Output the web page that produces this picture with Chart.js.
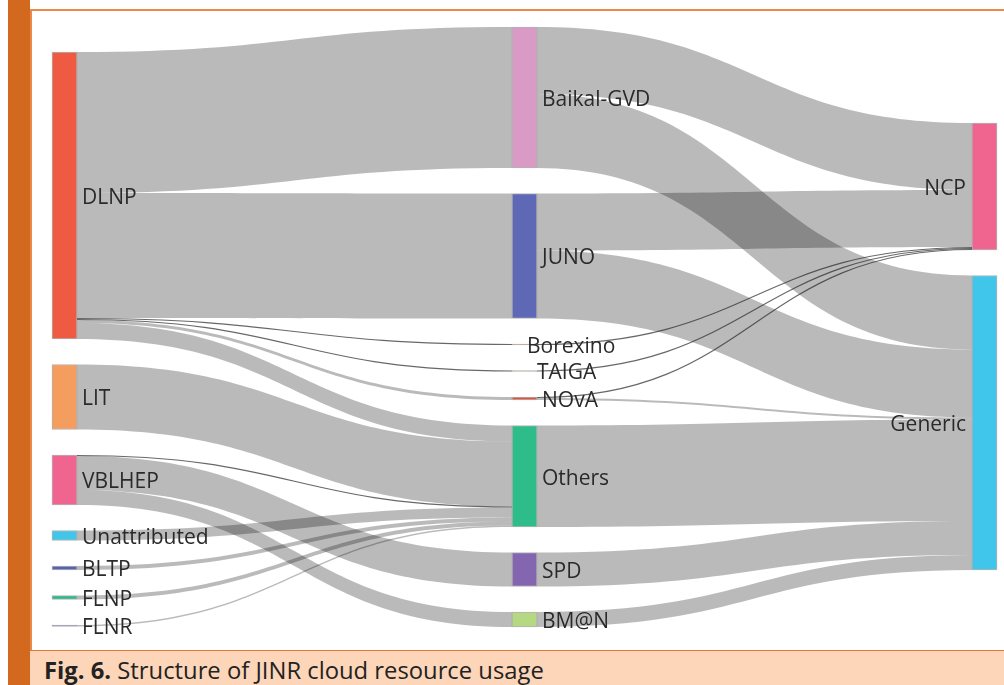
<!DOCTYPE html>
<html lang="en">
<head>
<meta charset="UTF-8">
<title>Structure of JINR cloud resource usage</title>
<script src="https://cdn.jsdelivr.net/npm/chart.js"></script>
<style>
    body {
        margin: 0;
        background: #fff;
        font-family: 'Open Sans', sans-serif;
    }
    .page {
        position: relative;
        width: 1004px;
        height: 685px;
        overflow: hidden;
    }
    .side-bar {
        position: absolute;
        left: 8px;
        top: 0;
        width: 22px;
        height: 685px;
        background: #d2691f;
    }
    .panel {
        position: absolute;
        left: 30px;
        top: 9px;
        width: 972px;
        height: 639px;
        border-top: 2px solid #ea8a4a;
        border-left: 2px solid #ea8a4a;
        background: #fff;
    }
    .chart-box {
        position: relative;
        width: 972px;
        height: 639px;
    }
    .caption {
        position: absolute;
        left: 30px;
        top: 650px;
        width: 974px;
        height: 35px;
        border-top: 1px solid #e07a3a;
        background: #fdd6b9;
        color: #222;
        font-size: 23.8px;
        line-height: 24px;
    }
    .caption span.text {
        position: absolute;
        left: 14px;
        top: 7px;
        white-space: nowrap;
    }
</style>
</head>
<body>
<div class="page">
    <div class="side-bar"></div>
    <div class="panel">
        <div class="chart-box"><canvas id="sankey"></canvas></div>
    </div>
    <div class="caption"><span class="text"><b>Fig. 6.</b> Structure of JINR cloud resource usage</span></div>
</div>

<script>
    // nodes (column 0 = departments, 1 = projects, 2 = resource pools)
    const nodeNames = ['DLNP', 'LIT', 'VBLHEP', 'Unattributed', 'BLTP', 'FLNP', 'FLNR',
        'Baikal-GVD', 'JUNO', 'Borexino', 'TAIGA', 'NOvA', 'Others', 'SPD', 'BM@N',
        'NCP', 'Generic'];
    const nodeColumn = [0, 0, 0, 0, 0, 0, 0, 1, 1, 1, 1, 1, 1, 1, 1, 2, 2];

    // links
    const linkSource = ['DLNP', 'DLNP', 'DLNP', 'DLNP', 'DLNP', 'DLNP', 'LIT', 'VBLHEP', 'VBLHEP', 'VBLHEP',
        'Unattributed', 'BLTP', 'FLNP', 'FLNR', 'Baikal-GVD', 'Baikal-GVD', 'JUNO', 'JUNO',
        'Borexino', 'TAIGA', 'NOvA', 'NOvA', 'Others', 'SPD', 'BM@N'];
    const linkTarget = ['Baikal-GVD', 'JUNO', 'Borexino', 'TAIGA', 'NOvA', 'Others', 'Others', 'Others', 'SPD', 'BM@N',
        'Others', 'Others', 'Others', 'Others', 'NCP', 'Generic', 'NCP', 'Generic',
        'NCP', 'NCP', 'NCP', 'Generic', 'Generic', 'Generic', 'Generic'];
    const linkValue = [141, 125, 1, 1, 3, 16, 65, 1, 34, 15,
        10, 4, 4, 1.5, 67, 74, 57, 68,
        1, 1, 1, 2, 101.5, 34, 15];

    const nodeColors = ['#ee5a42', '#f59d5e', '#ef6590', '#42c5e8', '#5462b2', '#2bb88a', '#8466b2',
        '#d99ac6', '#5e68b4', '#a08a70', '#a08a70', '#e0503c', '#2ebc8a', '#8466b0', '#b6d882',
        '#ef6590', '#40c6ea'];

    // layout settings
    const NODE_PAD = 25.5;
    const COLUMN_TOP = [25, 0, 96];
    const NODE_WIDTH = 25;
    const labelNudge = { 'Borexino': -15, 'TAIGA': -5 }; // tiny nodes: label sits over the node end

    function layoutSankey() {
        const nodes = nodeNames.map((name, i) => ({ name, col: nodeColumn[i], inSum: 0, outSum: 0, ins: [], outs: [] }));
        const byName = {};
        nodes.forEach(n => byName[n.name] = n);
        const links = linkValue.map((v, i) => {
            const l = { source: byName[linkSource[i]], target: byName[linkTarget[i]], value: v };
            l.source.outSum += v;
            l.target.inSum += v;
            l.source.outs.push(l);
            l.target.ins.push(l);
            return l;
        });
        const colPos = COLUMN_TOP.slice();
        nodes.forEach(n => {
            n.value = Math.max(n.inSum, n.outSum);
            n.y0 = colPos[n.col];
            n.y1 = n.y0 + n.value;
            colPos[n.col] = n.y1 + NODE_PAD;
        });
        nodes.forEach(n => {
            let off = n.y0;
            n.outs.sort((a, b) => a.target.y0 - b.target.y0).forEach(l => { l.sy0 = off; off += l.value; });
            off = n.y0;
            n.ins.sort((a, b) => a.source.y0 - b.source.y0).forEach(l => { l.ty0 = off; off += l.value; });
        });
        return { nodes, links };
    }

    const graph = layoutSankey();

    const linkPlugin = {
        id: 'sankeyLinks',
        beforeDatasetsDraw(chart) {
            const ctx = chart.ctx;
            const x = chart.scales.x, y = chart.scales.y;
            ctx.save();
            graph.links.forEach(l => {
                const sx = x.getPixelForValue(l.source.col) + NODE_WIDTH / 2;
                const tx = x.getPixelForValue(l.target.col) - NODE_WIDTH / 2;
                const xm = (sx + tx) / 2;
                const s0 = y.getPixelForValue(l.sy0), s1 = y.getPixelForValue(l.sy0 + l.value);
                const t0 = y.getPixelForValue(l.ty0), t1 = y.getPixelForValue(l.ty0 + l.value);
                if (l.value <= 1) {
                    // very thin flows show up as a dark hairline
                    const sm = (s0 + s1) / 2, tm = (t0 + t1) / 2;
                    ctx.beginPath();
                    ctx.moveTo(sx, sm);
                    ctx.bezierCurveTo(xm, sm, xm, tm, tx, tm);
                    ctx.strokeStyle = 'rgba(40,40,40,0.7)';
                    ctx.lineWidth = 1.2;
                    ctx.stroke();
                    return;
                }
                ctx.beginPath();
                ctx.moveTo(sx, s0);
                ctx.bezierCurveTo(xm, s0, xm, t0, tx, t0);
                ctx.lineTo(tx, t1);
                ctx.bezierCurveTo(xm, t1, xm, s1, sx, s1);
                ctx.closePath();
                ctx.fillStyle = 'rgba(0,0,0,0.27)';
                ctx.fill();
            });
            ctx.restore();
        },
        afterDatasetsDraw(chart) {
            const ctx = chart.ctx;
            const x = chart.scales.x, y = chart.scales.y;
            ctx.save();
            ctx.font = '21px "Open Sans"';
            ctx.fillStyle = '#2a2a2a';
            ctx.textBaseline = 'middle';
            graph.nodes.forEach(n => {
                const cy = y.getPixelForValue((n.y0 + n.y1) / 2) + 2.5;
                const cx = x.getPixelForValue(n.col);
                if (n.col === 2) {
                    ctx.textAlign = 'right';
                    ctx.fillText(n.name, cx - NODE_WIDTH / 2 - 6, cy);
                } else {
                    ctx.textAlign = 'left';
                    ctx.fillText(n.name, cx + NODE_WIDTH / 2 + 5 + (labelNudge[n.name] || 0), cy);
                }
            });
            ctx.restore();
        }
    };

    new Chart(document.getElementById('sankey'), {
        type: 'bar',
        data: {
            datasets: [{
                data: graph.nodes.map(n => ({ x: n.col, y: [n.y0, Math.max(n.y1, n.y0 + 1)] })),
                backgroundColor: nodeColors,
                borderColor: 'rgba(60,60,60,0.4)',
                borderWidth: 1,
                borderSkipped: false,
                barThickness: NODE_WIDTH,
                clip: false
            }]
        },
        options: {
            responsive: true,
            maintainAspectRatio: false,
            animation: false,
            events: [],
            layout: { padding: { left: 32.5, right: 19.5, top: 16, bottom: 22 } },
            plugins: {
                legend: { display: false },
                tooltip: { enabled: false }
            },
            scales: {
                x: { type: 'linear', min: 0, max: 2, offset: false, display: false },
                y: { type: 'linear', min: 0, max: 601, reverse: true, display: false }
            }
        },
        plugins: [linkPlugin]
    });
</script>
</body>
</html>
